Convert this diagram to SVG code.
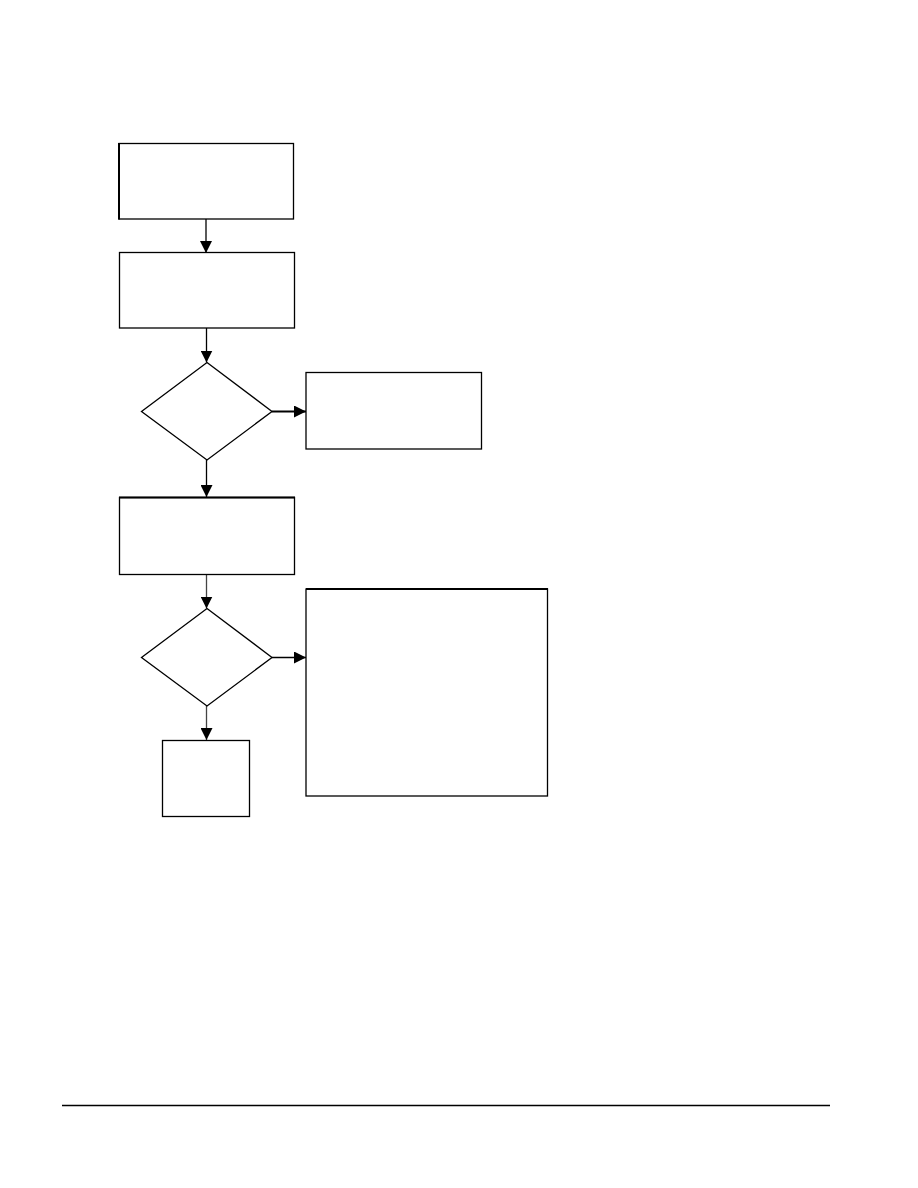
<svg xmlns="http://www.w3.org/2000/svg" width="918" height="1188" viewBox="0 0 918 1188">
<style>
.n{fill:#fff;stroke:#000;stroke-width:1.3}
.c{stroke:#000;stroke-width:1.3;fill:none}
</style>
<defs>
<marker id="ah" viewBox="0 0 12 12" refX="12" refY="6" markerWidth="12" markerHeight="12" markerUnits="userSpaceOnUse" orient="auto">
<path d="M0,0 L12,6 L0,12 Z" fill="#000"/>
</marker>
</defs>
<rect width="918" height="1188" fill="#fff"/>
<g id="connectors">
<line class="c" x1="206" y1="219" x2="206" y2="253" marker-end="url(#ah)"/>
<line class="c" x1="206.5" y1="328" x2="206.5" y2="362.5" marker-end="url(#ah)"/>
<line class="c" x1="272" y1="411.5" x2="306" y2="411.5" style="stroke-width:2" marker-end="url(#ah)"/>
<line class="c" x1="206.5" y1="460" x2="206.5" y2="497" marker-end="url(#ah)"/>
<line class="c" x1="206.5" y1="574.5" x2="206.5" y2="608.5" style="stroke:#444" marker-end="url(#ah)"/>
<line class="c" x1="272" y1="657.5" x2="306" y2="657.5" marker-end="url(#ah)"/>
<line class="c" x1="206.5" y1="706" x2="206.5" y2="740" style="stroke:#444" marker-end="url(#ah)"/>
</g>
<g id="node1"><rect class="n" x="119" y="143.5" width="174.5" height="75.5"/><line x1="119" y1="143" x2="119" y2="219.5" stroke="#000" stroke-width="2"/></g>
<g id="node2"><rect class="n" x="119.5" y="252.5" width="175" height="75.5"/></g>
<g id="decision1"><polygon class="n" points="207,362.5 272,411.5 207,460 141.5,411.5"/></g>
<g id="node3"><rect class="n" x="306" y="372.5" width="175.5" height="76.5"/></g>
<g id="node4"><rect class="n" x="119.5" y="497.5" width="175" height="77"/><line x1="119" y1="497.5" x2="295" y2="497.5" stroke="#000" stroke-width="2"/></g>
<g id="decision2"><polygon class="n" points="207,608.5 272,657.5 207,706 141.5,657.5"/></g>
<g id="node5"><rect class="n" x="306" y="589" width="241.5" height="207"/><line x1="306" y1="589" x2="548" y2="589" stroke="#000" stroke-width="2"/></g>
<g id="node6"><rect class="n" x="162.5" y="740.5" width="87" height="76"/></g>
<line x1="62" y1="1105.5" x2="830" y2="1105.5" stroke="#000" stroke-width="1.3"/>
</svg>
